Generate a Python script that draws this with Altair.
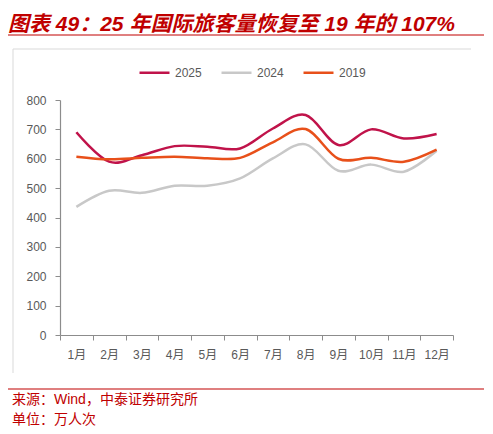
import json
import altair as alt
import pandas as pd

# ---- data ----
months = list(range(1, 13))
month_labels = ["1月", "2月", "3月", "4月", "5月", "6月", "7月", "8月", "9月", "10月", "11月", "12月"]
series_names = ["2025", "2024", "2019"]
v2025 = [690, 590, 612, 643, 641, 635, 703, 749, 647, 700, 669, 684]
v2024 = [436, 491, 484, 508, 508, 533, 601, 649, 559, 580, 556, 627]
v2019 = [607, 598, 603, 607, 602, 603, 656, 701, 600, 603, 590, 631]
colors = ["#C0134A", "#C8C8C8", "#E8501A"]

title_text = "图表 49：25 年国际旅客量恢复至 19 年的 107%"
source_text = "来源：Wind，中泰证券研究所"
unit_text = "单位：万人次"

rows = []
for name, vals in zip(series_names, [v2025, v2024, v2019]):
    for m, v in zip(months, vals):
        rows.append({"month": m, "value": v, "series": name})
df = pd.DataFrame(rows)

FONT = "Liberation Sans, Arial, Noto Sans CJK SC"
RED = "#C00000"
AX = "#8C8C8C"

x_ticks = [i / 2 for i in range(1, 26)]
label_arr = json.dumps(month_labels, ensure_ascii=False)

lines = alt.Chart(df).mark_line(strokeWidth=2.5, interpolate="cardinal").encode(
    x=alt.X(
        "month:Q",
        scale=alt.Scale(domain=[0.5, 12.5], nice=False, zero=False),
        axis=alt.Axis(
            title=None,
            values=x_ticks,
            grid=False,
            labelOverlap=False,
            labelExpr=f"datum.value % 1 == 0 ? {label_arr}[datum.value - 1] : ''",
            tickOpacity={"condition": {"test": "datum.value % 1 == 0", "value": 0}, "value": 1},
            tickSize=5,
            labelPadding=9,
            labelFontSize=12,
            labelColor="#595959",
            labelFont=FONT,
            domainColor=AX,
            tickColor=AX,
            domainWidth=1.2,
        ),
    ),
    y=alt.Y(
        "value:Q",
        scale=alt.Scale(domain=[0, 800], nice=False),
        axis=alt.Axis(
            title=None,
            values=list(range(0, 801, 100)),
            grid=False,
            tickSize=5,
            labelPadding=9,
            labelFontSize=12,
            labelColor="#595959",
            labelFont=FONT,
            domainColor=AX,
            tickColor=AX,
            domainWidth=1.2,
        ),
    ),
    color=alt.Color(
        "series:N",
        scale=alt.Scale(domain=series_names, range=colors),
        legend=alt.Legend(
            title=None,
            orient="none",
            legendX=78,
            legendY=-44,
            direction="horizontal",
            symbolType="stroke",
            symbolSize=900,
            symbolStrokeWidth=2.5,
            labelFontSize=12,
            labelColor="#595959",
            labelFont=FONT,
            labelOffset=4,
            columnPadding=14,
        ),
    ),
    order=alt.Order("series:N"),
)

one = pd.DataFrame({"a": [0]})


def rule(x1, x2, y1, y2, color, width):
    return alt.Chart(one).mark_rule(color=color, strokeWidth=width).encode(
        x=alt.value(x1), x2=alt.value(x2), y=alt.value(y1), y2=alt.value(y2)
    )


def text(t, x, y, size, color, weight="normal", style="normal", baseline="middle"):
    return alt.Chart(pd.DataFrame({"t": [t]})).mark_text(
        align="left", baseline=baseline, fontSize=size, color=color,
        fontWeight=weight, fontStyle=style, font=FONT,
    ).encode(x=alt.value(x), y=alt.value(y), text="t:N")


deco = [
    rule(-55, 428, -94, -94, RED, 2.5),
    text(title_text, -52, -69, 21, RED, weight="bold", style="italic", baseline="alphabetic"),
    rule(-55, 428, -65, -65, RED, 1),
    rule(-47, 411, -51, -51, "#D9D9D9", 1),
    rule(-47, -47, -51, 273, "#D9D9D9", 1),
    rule(-55, 428, 289, 289, RED, 1.2),
    text(source_text, -48, 300, 14, RED),
    text(unit_text, -48, 320, 14, RED),
]

chart = alt.layer(*deco, lines).properties(
    width=393,
    height=235,
    padding={"left": 52, "top": 92, "right": 31, "bottom": 94},
    autosize=alt.AutoSizeParams(type="none"),
    background="white",
).configure_view(stroke=None)

chart.save("out.html", embed_options={"renderer": "svg", "actions": False})
